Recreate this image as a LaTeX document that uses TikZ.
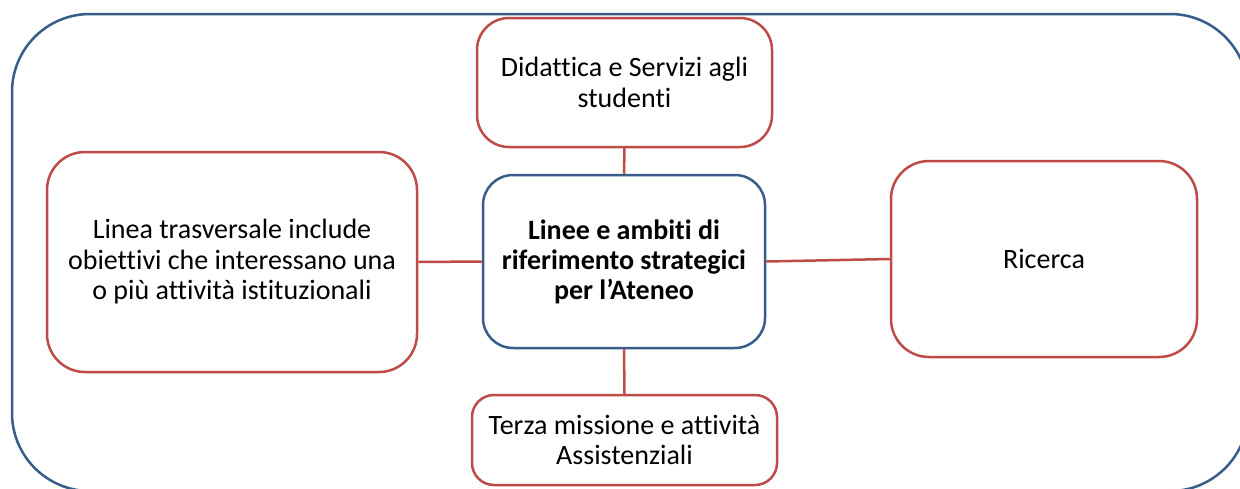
\documentclass[tikz,border=0pt]{standalone}
\usepackage{fontspec}
\setmainfont{Carlito}[Ligatures=NoCommon]
\definecolor{outerblue}{HTML}{385D8A}
\definecolor{boxred}{HTML}{BE4B48}
\tikzset{
  redbox/.style={draw=boxred, line width=2.5pt, fill=white, rounded corners=#1,
    inner sep=0pt, align=center, font=\fontsize{28}{30.5}\selectfont},
  redbox/.default=32pt,
  mainbox/.style={draw=outerblue, line width=2.5pt, fill=white, rounded corners=30pt,
    inner sep=0pt, align=center, font=\fontsize{28}{30}\selectfont\bfseries},
  link/.style={draw=boxred, line width=2.5pt}
}
\begin{document}
\begin{tikzpicture}[x=1pt,y=-1pt]
\clip (0,0) rectangle (1240,488);
\fill[white] (0,0) rectangle (1240,488);
\draw[outerblue, line width=2.5pt, rounded corners=78pt] (12,14) rectangle (1248,491);
\node[redbox, minimum width=295pt, minimum height=129pt] (top) at (624.5,82.5)
  {Didattica e Servizi agli\\studenti};
\node[mainbox, minimum width=282pt, minimum height=173pt] (ctr) at (624,261.5)
  {Linee e ambiti di\\riferimento strategici\\per l’Ateneo};
\node[redbox=22pt, minimum width=305pt, minimum height=90pt] (bot) at (624.5,440)
  {Terza missione e attività\\Assistenziali};
\node[redbox=38pt, minimum width=370pt, minimum height=220pt] (lft) at (232,262)
  {Linea trasversale include\\obiettivi che interessano una\\o più attività istituzionali};
\node[redbox=38pt, minimum width=306pt, minimum height=196pt] (rgt) at (1044,259)
  {Ricerca};
\draw[link] (top.south) -- (ctr.north);
\draw[link] (ctr.south) -- (bot.north);
\draw[link] (lft.east) -- (ctr.west);
\draw[link] (ctr.east) -- (rgt.west);
\end{tikzpicture}
\end{document}
